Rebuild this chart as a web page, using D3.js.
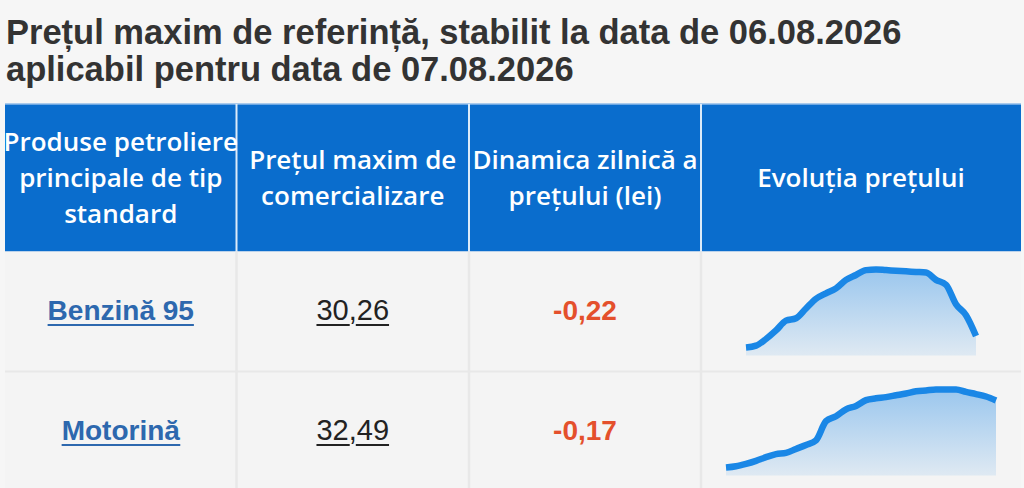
<!DOCTYPE html>
<html>
<head>
<meta charset="utf-8">
<script src="https://cdn.jsdelivr.net/npm/d3@7"></script>
<style>
  html, body { margin: 0; padding: 0; background: #f6f6f6; }
  svg { display: block; }
</style>
</head>
<body>
<div id="chart"></div>
<script>
// datele tabelului
const titleLines = [
    "Prețul maxim de referință, stabilit la data de 06.08.2026",
    "aplicabil pentru data de 07.08.2026"
];
const headers = [
    ["Produse petroliere", "principale de tip", "standard"],
    ["Prețul maxim de", "comercializare"],
    ["Dinamica zilnică a", "prețului (lei)"],
    ["Evoluția prețului"]
];
const products = ["Benzină 95", "Motorină"];
const prices = ["30,26", "32,49"];
const changes = ["-0,22", "-0,17"];

// evoluția prețului (lei), citită de pe grafic
const benzinaSeries = [30.07, 30.10, 30.21, 30.35, 30.51, 30.55, 30.71, 30.87, 30.96, 31.04,
    31.18, 31.26, 31.34, 31.35, 31.34, 31.33, 31.32, 31.31, 31.30, 31.18,
    31.10, 30.78, 30.60, 30.26];
const motorinaSeries = [30.29, 30.33, 30.41, 30.51, 30.63, 30.73, 30.77, 30.90, 31.03, 31.18,
    31.81, 31.97, 32.20, 32.31, 32.50, 32.56, 32.60, 32.66, 32.72, 32.79,
    32.82, 32.85, 32.85, 32.85, 32.77, 32.70, 32.62, 32.49];
const seriesList = [benzinaSeries, motorinaSeries];

const W = 1024, H = 488;
const colEdges = [5, 236.5, 469, 701, 1021];
const headerTop = 104, headerBottom = 251.5;
const rowHeight = 120;

const svg = d3.select("#chart")
    .append("svg")
    .attr("width", W)
    .attr("height", H)
    .attr("viewBox", `0 0 ${W} ${H}`);

svg.append("rect")
    .attr("width", W).attr("height", H)
    .attr("fill", "#f6f6f6");

// titlu
svg.selectAll(".title")
    .data(titleLines)
    .enter()
    .append("text")
    .attr("class", "title")
    .attr("x", 6)
    .attr("y", (d, i) => 43.5 + i * 37)
    .style("font-family", "'Liberation Sans', Arial, sans-serif")
    .style("font-weight", "bold")
    .style("font-size", "34.5px")
    .attr("fill", "#333")
    .text(d => d);

// antet
const cols = d3.range(4).map(i => ({
    x0: colEdges[i], x1: colEdges[i + 1], lines: headers[i]
}));

svg.append("rect")
    .attr("x", colEdges[0])
    .attr("y", headerTop)
    .attr("width", colEdges[4] - colEdges[0])
    .attr("height", headerBottom - headerTop)
    .attr("fill", "#0a6dcd");

svg.append("line")
    .attr("x1", colEdges[0]).attr("x2", colEdges[4])
    .attr("y1", headerTop).attr("y2", headerTop)
    .attr("stroke", "#8fbbe8")
    .attr("stroke-width", 1.5);

svg.selectAll(".hsep")
    .data(colEdges.slice(1, 4))
    .enter()
    .append("line")
    .attr("class", "hsep")
    .attr("x1", d => d).attr("x2", d => d)
    .attr("y1", headerTop).attr("y2", headerBottom)
    .attr("stroke", "#dcebf9")
    .attr("stroke-width", 2);

const headerMid = (headerTop + headerBottom) / 2;
const lineH = 36;
cols.forEach(c => {
    const n = c.lines.length;
    svg.append("g")
        .selectAll("text")
        .data(c.lines)
        .enter()
        .append("text")
        .attr("x", (c.x0 + c.x1) / 2)
        .attr("y", (d, i) => headerMid + (i - (n - 1) / 2) * lineH)
        .attr("dy", "0.36em")
        .attr("text-anchor", "middle")
        .style("font-family", "'Open Sans', 'Noto Sans', sans-serif")
        .style("font-weight", 600)
        .style("font-size", "26px")
        .attr("fill", "#fff")
        .text(d => d);
});

// rânduri
const body = svg.append("g");
products.forEach((p, r) => {
    const top = headerBottom + r * rowHeight;
    const base = top + 68;

    body.append("rect")
        .attr("x", colEdges[0]).attr("y", top)
        .attr("width", colEdges[4] - colEdges[0])
        .attr("height", rowHeight)
        .attr("fill", "#f4f4f4");

    // produs
    const name = body.append("text")
        .attr("x", (colEdges[0] + colEdges[1]) / 2)
        .attr("y", base)
        .attr("text-anchor", "middle")
        .style("font-family", "'Liberation Sans', Arial, sans-serif")
        .style("font-weight", "bold")
        .style("font-size", "28px")
        .attr("fill", "#2d68ae")
        .text(p);
    underline(name, base + 5.5, "#2d68ae", null);

    // preț
    const price = body.append("text")
        .attr("x", (colEdges[1] + colEdges[2]) / 2)
        .attr("y", base)
        .attr("text-anchor", "middle")
        .style("font-family", "'Liberation Sans', Arial, sans-serif")
        .style("font-size", "29px")
        .attr("fill", "#222")
        .text(prices[r]);
    underline(price, base + 5.5, "#222", prices[r].indexOf(","));

    // dinamica
    body.append("text")
        .attr("x", (colEdges[2] + colEdges[3]) / 2)
        .attr("y", base)
        .attr("text-anchor", "middle")
        .style("font-family", "'Liberation Sans', Arial, sans-serif")
        .style("font-weight", "bold")
        .style("font-size", "28px")
        .attr("fill", "#e4502c")
        .text(changes[r]);

    drawSpark(seriesList[r], top, r);
});

// separatoare corp tabel
svg.selectAll(".vsep")
    .data(colEdges.slice(1, 4))
    .enter()
    .append("line")
    .attr("class", "vsep")
    .attr("x1", d => d).attr("x2", d => d)
    .attr("y1", headerBottom).attr("y2", H)
    .attr("stroke", "#e8e8e8")
    .attr("stroke-width", 2.5);

svg.append("line")
    .attr("x1", colEdges[0]).attr("x2", colEdges[4])
    .attr("y1", headerBottom + rowHeight).attr("y2", headerBottom + rowHeight)
    .attr("stroke", "#e8e8e8")
    .attr("stroke-width", 2);

function underline(textSel, y, color, gapIndex) {
    const node = textSel.node();
    const bb = node.getBBox();
    let segs = [[bb.x, bb.x + bb.width]];
    if (gapIndex !== null && gapIndex >= 0) {
        const a = node.getStartPositionOfChar(gapIndex).x;
        const b = node.getEndPositionOfChar(gapIndex).x;
        segs = [[bb.x, a + 1], [b - 1, bb.x + bb.width]];
    }
    segs.forEach(s => {
        body.append("line")
            .attr("x1", s[0]).attr("x2", s[1])
            .attr("y1", y).attr("y2", y)
            .attr("stroke", color)
            .attr("stroke-width", 2.2);
    });
}

function drawSpark(values, top, idx) {
    const cx = (colEdges[3] + colEdges[4]) / 2;
    const half = (values.length - 1) * 5;
    const x = d3.scaleLinear()
        .domain([0, values.length - 1])
        .range([cx - half, cx + half]);
    const y = d3.scaleLinear()
        .domain(d3.extent(values))
        .range([top + 96, top + 18]);

    const gradId = "sparkGrad" + idx;
    const grad = svg.append("defs")
        .append("linearGradient")
        .attr("id", gradId)
        .attr("x1", 0).attr("y1", 0)
        .attr("x2", 0).attr("y2", 1);
    grad.append("stop").attr("offset", "0%").attr("stop-color", "#1f88e5").attr("stop-opacity", 0.42);
    grad.append("stop").attr("offset", "100%").attr("stop-color", "#1f88e5").attr("stop-opacity", 0.1);

    const area = d3.area()
        .x((d, i) => x(i))
        .y0(top + 104)
        .y1(d => y(d))
        .curve(d3.curveMonotoneX);

    const line = d3.line()
        .x((d, i) => x(i))
        .y(d => y(d))
        .curve(d3.curveMonotoneX);

    body.append("path")
        .datum(values)
        .attr("d", area)
        .attr("fill", `url(#${gradId})`);

    body.append("path")
        .datum(values)
        .attr("d", line)
        .attr("fill", "none")
        .attr("stroke", "#1a87e6")
        .attr("stroke-width", 6.5)
        .attr("stroke-linejoin", "round");
}
</script>
</body>
</html>
